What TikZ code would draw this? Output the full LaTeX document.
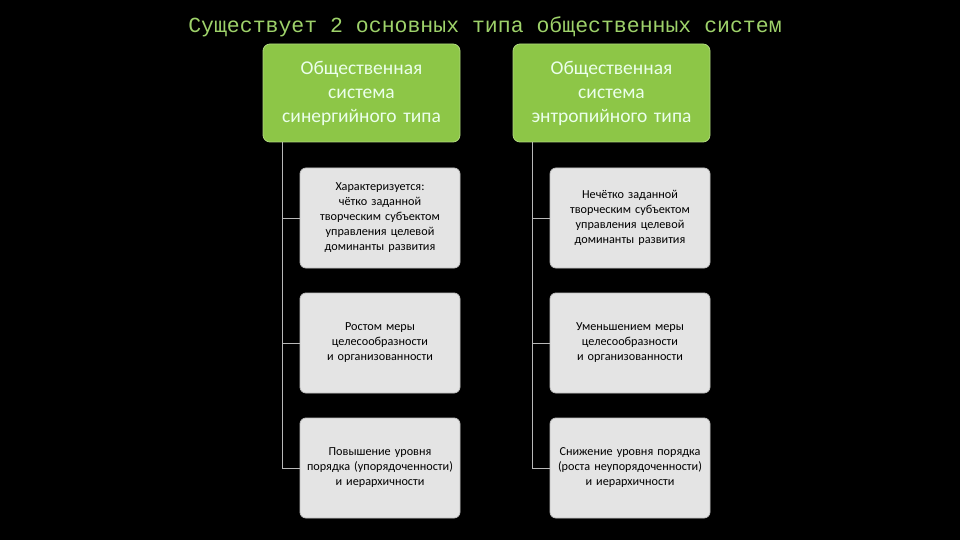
\documentclass[tikz,border=0pt]{standalone}
\usepackage{fontspec}
\setmainfont{Carlito}
\newfontfamily\monof{Liberation Mono}
\definecolor{hdr}{HTML}{8DC647}
\definecolor{ttl}{HTML}{9ED26A}
\definecolor{chl}{HTML}{E4E4E4}
\definecolor{lin}{HTML}{B8B8B8}
\begin{document}
\begin{tikzpicture}[x=1pt,y=-1pt,
  hbox/.style={draw=hdr!70!white,line width=0.8pt,fill=hdr,rounded corners=7pt,minimum width=197pt,minimum height=98pt,text width=190pt,align=center,text=white!92!green,font=\fontsize{19.5}{24}\selectfont,inner sep=0pt},
  cbox/.style={draw=white!75!black,line width=0.8pt,fill=chl,rounded corners=6pt,minimum width=160pt,minimum height=100pt,text width=150pt,align=center,text=black,font=\fontsize{12.2}{15}\selectfont,inner sep=0pt},
  conn/.style={draw=lin,line width=0.7pt}]
\fill[black] (0,0) rectangle (960,540);
\useasboundingbox (0,0) rectangle (960,540);
\node[text=ttl,font=\monof\fontsize{21.5}{24}\selectfont] (t) at (485,27) {Существует 2 основных типа общественных систем};
\node[hbox] (h1) at (361.5,93) {Общественная\\система\\синергийного типа};
\node[hbox] (h2) at (611.5,93) {Общественная\\система\\энтропийного типа};
\node[cbox] (a1) at (380,218) {Характеризуется: чётко заданной творческим субъектом управления целевой доминанты развития};
\node[cbox] (a2) at (380,343) {Ростом меры целесообразности и организованности};
\node[cbox] (a3) at (380,468) {Повышение уровня порядка (упорядоченности) и иерархичности};
\node[cbox] (b1) at (630,218) {Нечётко заданной творческим субъектом управления целевой доминанты развития};
\node[cbox] (b2) at (630,343) {Уменьшением меры целесообразности и организованности};
\node[cbox] (b3) at (630,468) {Снижение уровня порядка (роста неупорядоченности) и иерархичности};
\coordinate (l0) at (h1.south west -| 282,0);
\draw[conn] (282,142) |- (a1.west);
\draw[conn] (282,142) |- (a2.west);
\draw[conn] (282,142) |- (a3.west);
\draw[conn] (532,142) |- (b1.west);
\draw[conn] (532,142) |- (b2.west);
\draw[conn] (532,142) |- (b3.west);
\end{tikzpicture}
\end{document}
